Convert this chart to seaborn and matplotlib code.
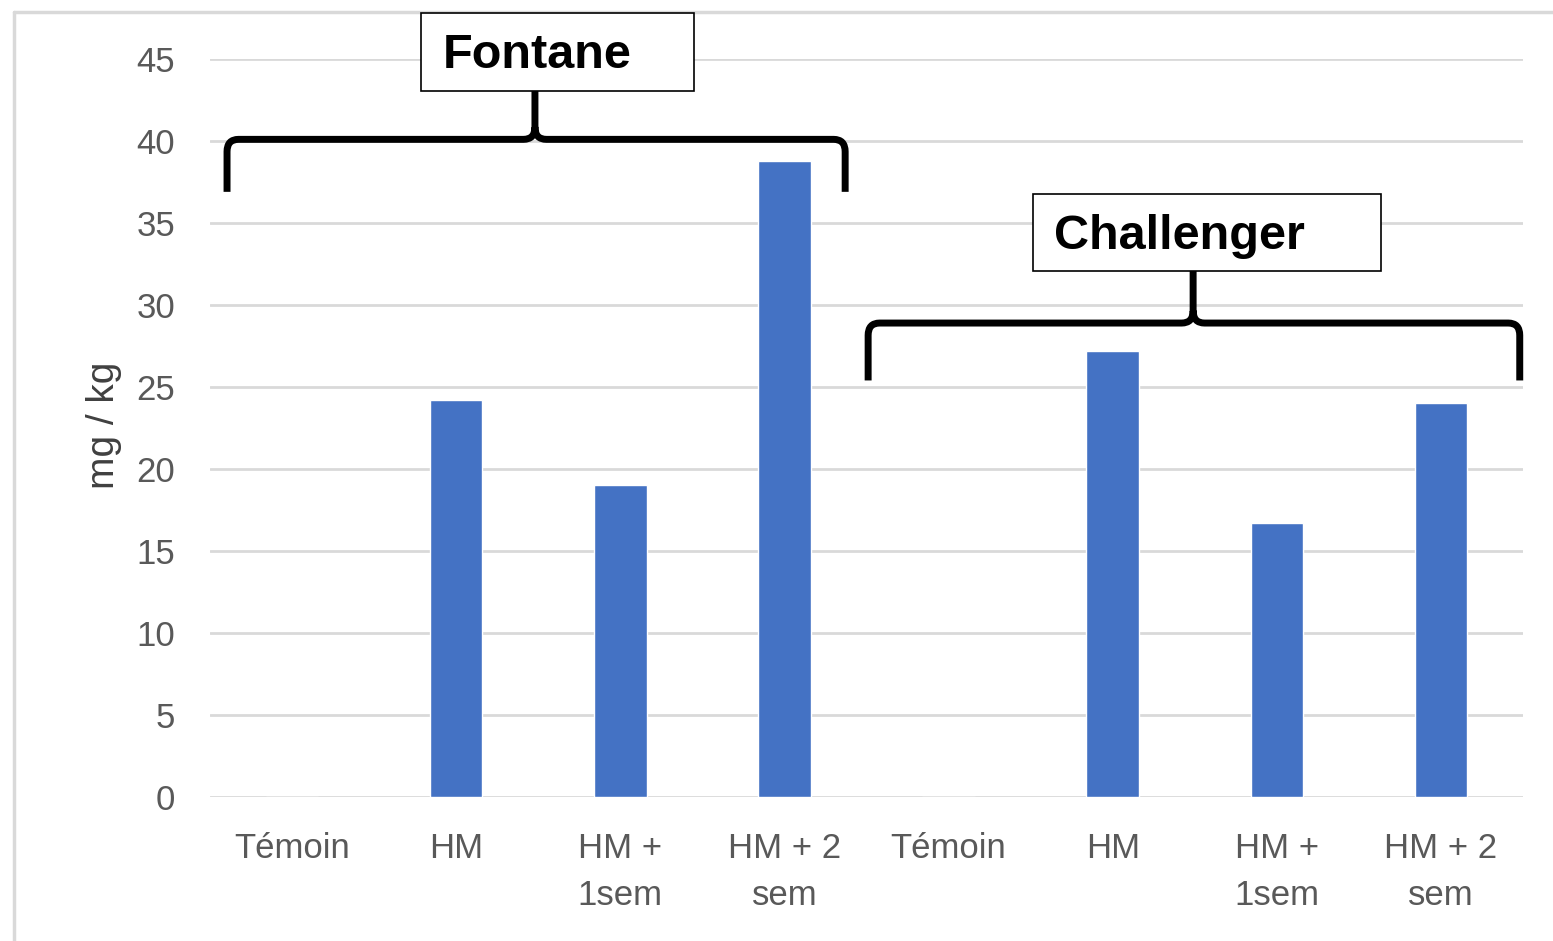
import matplotlib
matplotlib.use("Agg")
import matplotlib.pyplot as plt
from matplotlib.path import Path
from matplotlib.patches import PathPatch, Rectangle
import seaborn as sns
import pandas as pd

# donnees
varietes = ["Fontane", "Challenger"]
traitements = ["Témoin", "HM", "HM +\n1sem", "HM + 2\nsem"]
fontane = [0, 24.2, 19.0, 38.8]
challenger = [0, 27.2, 16.7, 24.0]

rows = []
for v, vals in zip(varietes, [fontane, challenger]):
    for t, val in zip(traitements, vals):
        rows.append({"cle": v + " " + t, "variete": v, "traitement": t, "valeur": val})
df = pd.DataFrame(rows)

sns.set_style("white")
plt.rcParams['font.family'] = ['Liberation Sans', 'DejaVu Sans']

fig = plt.figure(figsize=(15.53, 9.41), dpi=100)
ax = fig.add_axes([0.1352, 0.1530, 0.8455, 0.7843])

sns.barplot(data=df, x="cle", y="valeur", color="#4472C4", width=0.32,
            saturation=1, ax=ax, zorder=3)

ax.set_ylim(0, 45)
ax.set_xlim(-0.5, len(df) - 0.5)
ax.set_yticks(range(0, 46, 5))
ax.yaxis.grid(True, color="#d9d9d9", linewidth=2)
ax.set_axisbelow(True)
for s in ax.spines.values():
    s.set_visible(False)
ax.set_xticks(range(len(df)))
ax.set_xticklabels(df["traitement"], linespacing=1.55)
ax.tick_params(axis="both", length=0, labelsize=25, colors="#595959")
ax.tick_params(axis="y", pad=25)
ax.tick_params(axis="x", pad=25)
ax.set_xlabel("")
ax.set_ylabel("mg / kg", fontsize=28, color="#404040")
ax.yaxis.set_label_coords(-0.067, 0.504)


def accolade(ax, x0, x1, xm, ytop, yend, ypeak, rx=0.07, ry=0.75):
    verts = [(x0, yend), (x0, ytop - ry), (x0, ytop), (x0 + rx, ytop),
             (xm - rx, ytop), (xm, ytop), (xm, ytop + ry), (xm, ypeak),
             (xm, ytop + ry), (xm, ytop), (xm + rx, ytop),
             (x1 - rx, ytop), (x1, ytop), (x1, ytop - ry), (x1, yend)]
    codes = [Path.MOVETO, Path.LINETO, Path.CURVE3, Path.CURVE3,
             Path.LINETO, Path.CURVE3, Path.CURVE3, Path.LINETO,
             Path.MOVETO, Path.CURVE3, Path.CURVE3,
             Path.LINETO, Path.CURVE3, Path.CURVE3, Path.LINETO]
    p = PathPatch(Path(verts, codes), facecolor="none", edgecolor="black",
                  linewidth=5, capstyle="butt", joinstyle="round",
                  clip_on=False, zorder=10)
    ax.add_patch(p)


accolade(ax, -0.396, 3.37, 1.48, 40.1, 36.9, 43.4)
accolade(ax, 3.51, 7.48, 5.49, 28.9, 25.4, 32.4)

# cadres de texte
for (x, y, w, h, tx, label) in [(0.2711, 0.9033, 0.1758, 0.0829, 443, "Fontane"),
                                (0.6652, 0.7120, 0.2241, 0.0818, 1054, "Challenger")]:
    fig.patches.append(Rectangle((x, y), w, h, transform=fig.transFigure,
                                 facecolor="white", edgecolor="black",
                                 linewidth=1.2, zorder=5))
    fig.text(tx / 1553, y + h / 2 - 0.004, label, fontsize=35, fontweight="bold",
             ha="left", va="center", color="black", zorder=6)

# bordure du graphique
fig.add_artist(plt.Line2D([14 / 1553, 14 / 1553], [0, 1 - 12 / 941],
                          color="#d9d9d9", linewidth=2.5, transform=fig.transFigure))
fig.add_artist(plt.Line2D([14 / 1553, 1], [1 - 12 / 941, 1 - 12 / 941],
                          color="#d9d9d9", linewidth=2.5, transform=fig.transFigure))

fig.savefig("out.png", dpi=100)
